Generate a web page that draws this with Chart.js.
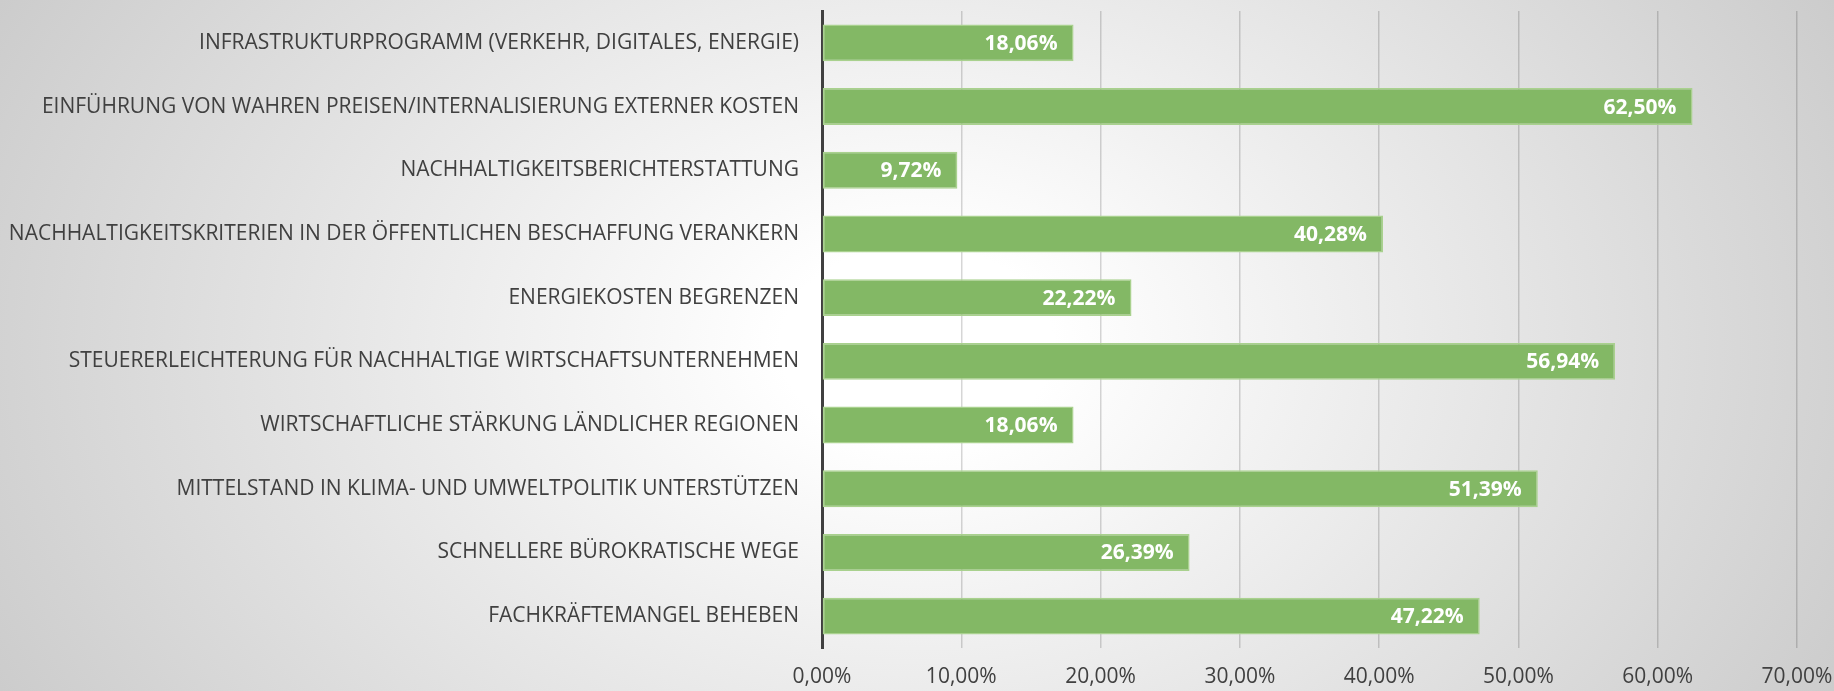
<!DOCTYPE html>
<html lang="de">
<head>
<meta charset="utf-8">
<title>Maßnahmen</title>
<script src="https://cdn.jsdelivr.net/npm/chart.js@4/dist/chart.umd.min.js"></script>
<style>
  html, body {
    margin: 0;
    padding: 0;
  }
  body {
    width: 1834px;
    height: 691px;
    overflow: hidden;
    background: radial-gradient(ellipse 62% 120% at 50% 50%, #ffffff 12%, #f0f0f0 35%, #c6c6c6 100%);
  }
  .chart-box {
    position: relative;
    width: 1834px;
    height: 691px;
  }
</style>
</head>
<body>
<div class="chart-box">
  <canvas id="measuresChart"></canvas>
</div>
<script>
const categories = [
  'INFRASTRUKTURPROGRAMM (VERKEHR, DIGITALES, ENERGIE)',
  'EINFÜHRUNG VON WAHREN PREISEN/INTERNALISIERUNG EXTERNER KOSTEN',
  'NACHHALTIGKEITSBERICHTERSTATTUNG',
  'NACHHALTIGKEITSKRITERIEN IN DER ÖFFENTLICHEN BESCHAFFUNG VERANKERN',
  'ENERGIEKOSTEN BEGRENZEN',
  'STEUERERLEICHTERUNG FÜR NACHHALTIGE WIRTSCHAFTSUNTERNEHMEN',
  'WIRTSCHAFTLICHE STÄRKUNG LÄNDLICHER REGIONEN',
  'MITTELSTAND IN KLIMA- UND UMWELTPOLITIK UNTERSTÜTZEN',
  'SCHNELLERE BÜROKRATISCHE WEGE',
  'FACHKRÄFTEMANGEL BEHEBEN'
];

const shares = [18.06, 62.50, 9.72, 40.28, 22.22, 56.94, 18.06, 51.39, 26.39, 47.22];

const xTickLabels = ['0,00%', '10,00%', '20,00%', '30,00%', '40,00%', '50,00%', '60,00%', '70,00%'];

const formatPercent = (v) => v.toFixed(2).replace('.', ',') + '%';

// scales should not add their own label overflow padding, layout padding decides
const noScalePadding = (scale) => {
  scale.paddingTop = 0;
  scale.paddingBottom = 0;
  scale.paddingLeft = 0;
  scale.paddingRight = 0;
};

// white bold value labels inside the bar ends
const barValueLabels = {
  id: 'barValueLabels',
  afterDatasetsDraw(chart) {
    const { ctx } = chart;
    const meta = chart.getDatasetMeta(0);
    ctx.save();
    ctx.font = 'bold 21px "Open Sans"';
    ctx.fillStyle = '#ffffff';
    ctx.textAlign = 'right';
    ctx.textBaseline = 'middle';
    meta.data.forEach((bar, i) => {
      ctx.fillText(formatPercent(shares[i]), bar.x - 16, bar.y + 1);
    });
    ctx.restore();
  }
};

new Chart(document.getElementById('measuresChart'), {
  type: 'bar',
  data: {
    labels: categories,
    datasets: [
      {
        data: shares,
        backgroundColor: '#83b865',
        borderColor: '#a9d18e',
        borderWidth: 1.5,
        borderSkipped: false,
        categoryPercentage: 1,
        barPercentage: 0.58
      }
    ]
  },
  options: {
    indexAxis: 'y',
    responsive: true,
    maintainAspectRatio: false,
    animation: false,
    layout: {
      padding: { top: 11, right: 37, left: 0, bottom: 0 }
    },
    plugins: {
      legend: { display: false },
      tooltip: { enabled: false }
    },
    scales: {
      x: {
        min: 0,
        max: 70,
        ticks: {
          stepSize: 10,
          color: '#404040',
          padding: 16,
          maxRotation: 0,
          font: { family: 'Open Sans', size: 21 },
          callback: (value, index) => xTickLabels[index]
        },
        grid: {
          color: 'rgba(0, 0, 0, 0.16)',
          lineWidth: 1.5,
          drawTicks: false
        },
        border: { display: false },
        afterFit: (scale) => {
          scale.height = 43;
          noScalePadding(scale);
        }
      },
      y: {
        ticks: {
          color: '#404040',
          padding: 23,
          font: { family: 'Open Sans', size: 21 }
        },
        grid: { display: false, drawTicks: false },
        border: { color: '#404040', width: 3 },
        afterFit: (scale) => {
          scale.width = 822;
          noScalePadding(scale);
        }
      }
    }
  },
  plugins: [barValueLabels]
});
</script>
</body>
</html>
